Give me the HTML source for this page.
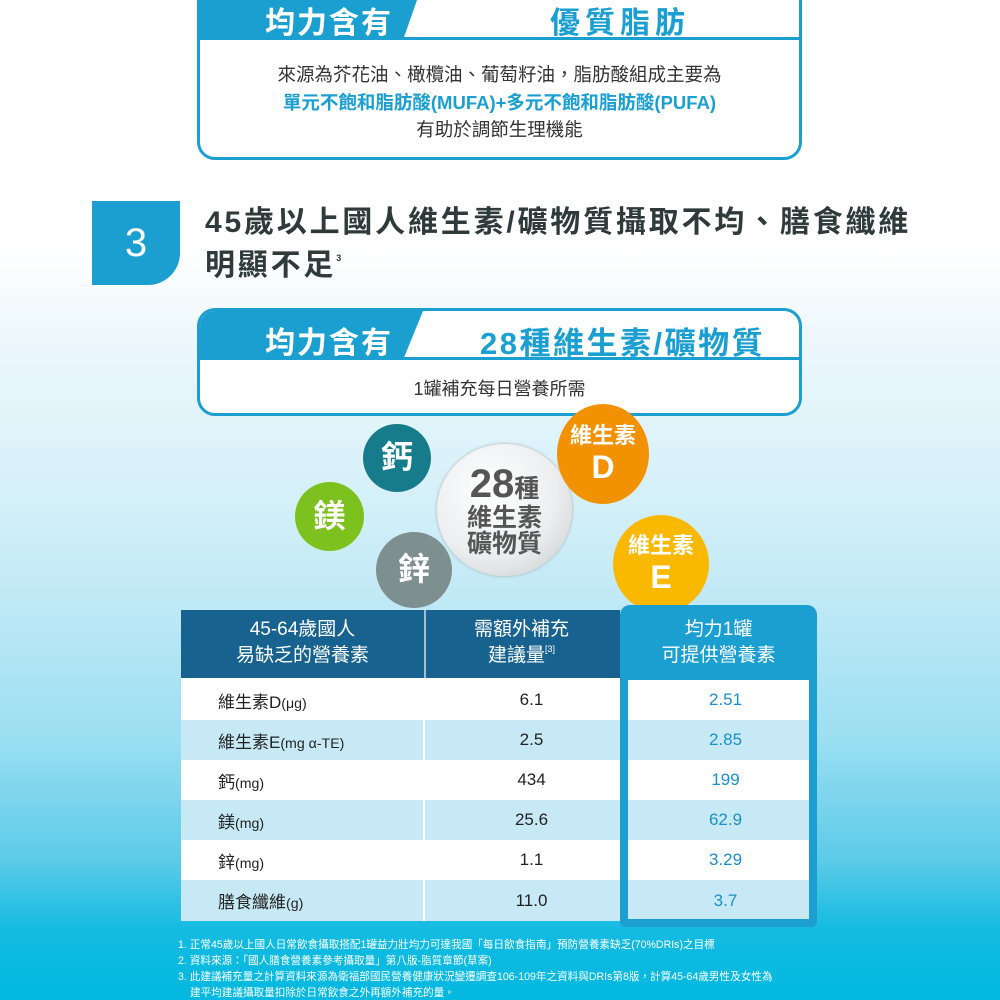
<!DOCTYPE html>
<html><head><meta charset="utf-8"><style>
*{margin:0;padding:0;box-sizing:border-box}
body{width:1000px;height:1000px;overflow:hidden;position:relative;font-family:"Liberation Sans","Noto Sans CJK TC",sans-serif;
background:linear-gradient(to bottom,#fff 0px,#fff 250px,#eef8fc 330px,#d8f1f9 480px,#c0e9f6 600px,#9adff2 740px,#5ccbe8 860px,#14bbe1 930px,#00b8e0 1000px);}
.a{position:absolute}
.box{position:absolute;left:197px;width:605px;border:3px solid #1a9fd0;border-radius:18px;background:#fff;overflow:hidden}
.hb{position:absolute;left:0;top:0;height:100%;background:#1a9fd0;clip-path:polygon(0 0,100% 0,calc(100% - 20px) 100%,0 100%)}
.ht{position:absolute;color:#fff;font-weight:bold;white-space:nowrap}
.c{position:absolute;border-radius:50%;color:#fff;font-weight:bold;text-align:center;display:flex;align-items:center;justify-content:center;flex-direction:column;line-height:1.05}
.fn{position:absolute;left:178px;color:#fff;font-size:10.6px;white-space:nowrap}
td{height:40px;font-size:17px;color:#222}
</style></head><body>

<div class="box" style="top:-20px;height:180px">
 <div style="position:absolute;left:0;top:0;width:100%;height:57px;border-bottom:3px solid #1a9fd0"></div>
 <div class="hb" style="width:223px;height:57px"></div>
 <div class="ht" style="left:65px;top:15px;font-size:30px;letter-spacing:2px">均力含有</div>
 <div class="a" style="left:350px;top:15px;font-size:30px;font-weight:bold;color:#1a9fd0;letter-spacing:5px">優質脂肪</div>
 <div class="a" style="left:0;width:100%;top:78px;text-align:center;font-size:18.5px;line-height:27.5px;color:#333">來源為芥花油、橄欖油、葡萄籽油，脂肪酸組成主要為<br><span style="color:#1a9fd0;font-weight:bold">單元不飽和脂肪酸(MUFA)+多元不飽和脂肪酸(PUFA)</span><br>有助於調節生理機能</div>
</div>

<div class="a" style="left:92px;top:201px;width:88px;height:84px;background:#1a9fd0;border-bottom-right-radius:32px;color:#fff;font-size:40px;text-align:center;line-height:84px">3</div>
<div class="a" style="left:205px;top:201px;font-size:30px;font-weight:bold;color:#2f3b3b;line-height:43px;letter-spacing:2.8px;white-space:nowrap">45歲以上國人維生素/礦物質攝取不均、膳食纖維</div>
<div class="a" style="left:205px;top:244px;font-size:30px;font-weight:bold;color:#2f3b3b;line-height:43px;letter-spacing:2.8px;white-space:nowrap">明顯不足<span style="position:relative;top:-14px;font-size:9px;letter-spacing:0">3</span></div>

<div class="box" style="top:308px;height:108px">
 <div style="position:absolute;left:0;top:0;width:100%;height:49px;border-bottom:3px solid #1a9fd0"></div>
 <div class="hb" style="width:223px;height:49px"></div>
 <div class="ht" style="left:65px;top:7px;font-size:30px;letter-spacing:2px">均力含有</div>
 <div class="a" style="left:280px;top:7px;font-size:31px;font-weight:bold;color:#1a9fd0;letter-spacing:2.5px;white-space:nowrap">28種維生素/礦物質</div>
 <div class="a" style="left:0;width:100%;top:64px;text-align:center;font-size:18px;color:#333">1罐補充每日營養所需</div>
</div>

<div class="c" style="left:363px;top:424px;width:68px;height:68px;background:#167c8c;font-size:32px">鈣</div>
<div class="c" style="left:295px;top:482px;width:69px;height:69px;background:#7dc11e;font-size:32px">鎂</div>
<div class="c" style="left:376px;top:532px;width:76px;height:76px;background:#7d8f8f;font-size:32px">鋅</div>
<div class="c" style="left:437px;top:444px;width:135px;height:132px;background:radial-gradient(circle at 40% 35%,#fff 0%,#eceeef 55%,#c6cacb 100%);box-shadow:0 0 3px #aaa;color:#555;font-size:25px"><div><span style="font-size:40px">28</span>種</div><div>維生素</div><div>礦物質</div></div>
<div class="c" style="left:557px;top:404px;width:92px;height:100px;background:#f39200;font-size:22px">維生素<div style="font-size:32px;margin-top:4px">D</div></div>
<div class="c" style="left:613px;top:515px;width:96px;height:98px;background:#fbb800;font-size:22px">維生素<div style="font-size:32px;margin-top:4px">E</div></div>

<div class="a" style="left:620px;top:605px;width:197px;height:322px;background:#1a9fd0;border-radius:10px"></div>
<div class="a" style="left:181px;top:610px;width:439px;height:68px;background:#17628e"></div>
<div class="a" style="left:424px;top:610px;width:2px;height:68px;background:#fff;opacity:.6"></div>
<div class="a" style="left:181px;top:617px;width:243px;text-align:center;color:#fff;font-size:19px;line-height:26px">45-64歲國人<br>易缺乏的營養素</div>
<div class="a" style="left:424px;top:617px;width:195px;text-align:center;color:#fff;font-size:19px;line-height:26px">需額外補充<br>建議量<span style="font-size:9px;vertical-align:top;line-height:12px">[3]</span></div>
<div class="a" style="left:620px;top:617px;width:197px;text-align:center;color:#fff;font-size:19px;line-height:26px">均力1罐<br>可提供營養素</div>

<table class="a" style="left:181px;top:680px;width:628px;border-collapse:collapse">
<tr style="background:#fff"><td style="width:243px;padding-left:37px">維生素D<small>(μg)</small></td><td style="width:204px;text-align:center;padding-left:10px;border-left:2px solid #fff">6.1</td><td style="text-align:center;color:#1a8fc8;padding-left:14px">2.51</td></tr>
<tr style="background:#c6e9f5"><td style="padding-left:37px">維生素E<small>(mg α-TE)</small></td><td style="text-align:center;padding-left:10px;border-left:2px solid #fff">2.5</td><td style="text-align:center;color:#1a8fc8;padding-left:14px">2.85</td></tr>
<tr style="background:#fff"><td style="padding-left:37px">鈣<small>(mg)</small></td><td style="text-align:center;padding-left:10px;border-left:2px solid #fff">434</td><td style="text-align:center;color:#1a8fc8;padding-left:14px">199</td></tr>
<tr style="background:#c6e9f5"><td style="padding-left:37px">鎂<small>(mg)</small></td><td style="text-align:center;padding-left:10px;border-left:2px solid #fff">25.6</td><td style="text-align:center;color:#1a8fc8;padding-left:14px">62.9</td></tr>
<tr style="background:#fff"><td style="padding-left:37px">鋅<small>(mg)</small></td><td style="text-align:center;padding-left:10px;border-left:2px solid #fff">1.1</td><td style="text-align:center;color:#1a8fc8;padding-left:14px">3.29</td></tr>
<tr style="background:#c6e9f5"><td style="padding-left:37px;height:41px">膳食纖維<small>(g)</small></td><td style="text-align:center;padding-left:10px;border-left:2px solid #fff">11.0</td><td style="text-align:center;color:#1a8fc8;padding-left:14px">3.7</td></tr>
</table>
<div class="a" style="left:181px;top:678px;width:439px;height:2px;background:#fff"></div>
<div class="a" style="left:620px;top:678px;width:197px;height:249px;border:8px solid #1a9fd0;border-top:none;border-radius:0 0 6px 6px"></div>

<div class="fn" style="top:937px">1. 正常45歲以上國人日常飲食攝取搭配1罐益力壯均力可達我國「每日飲食指南」預防營養素缺乏(70%DRIs)之目標</div>
<div class="fn" style="top:953px">2. 資料來源：「國人膳食營養素參考攝取量」第八版-脂質章節(草案)</div>
<div class="fn" style="top:969px">3. 此建議補充量之計算資料來源為衛福部國民營養健康狀況變遷調查106-109年之資料與DRIs第8版，計算45-64歲男性及女性為</div>
<div class="fn" style="top:985px;left:190px">建平均建議攝取量扣除於日常飲食之外再額外補充的量。</div>
</body></html>
